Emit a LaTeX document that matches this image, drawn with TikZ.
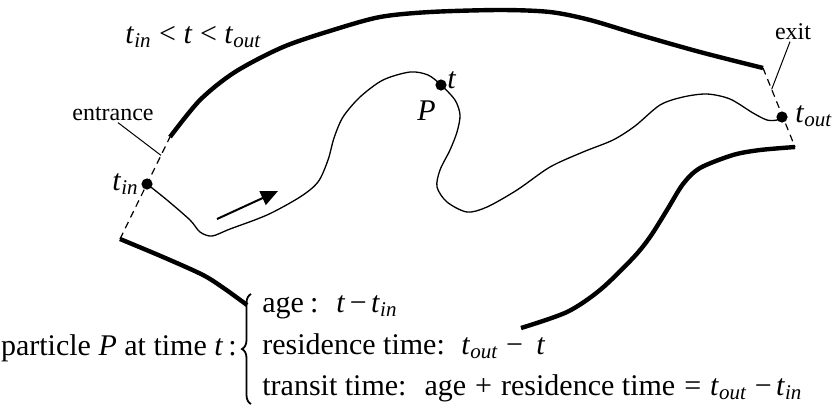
\documentclass[tikz,border=0pt]{standalone}
\usepackage{fontspec}
\setmainfont{Liberation Serif}
\usetikzlibrary{arrows.meta,calc,decorations.pathreplacing}

\newcommand{\tIn}{\textit{t}\textsubscript{\textit{in}}}
\newcommand{\tOut}{\textit{t}\textsubscript{\textit{out}}}

\begin{document}
\begin{tikzpicture}[x=0.5pt,y=-0.5pt,>=Stealth,
  wall/.style={line width=2.2pt},
  opening/.style={line width=0.6pt,dash pattern=on 3.5pt off 2.5pt},
  track/.style={line width=0.65pt},
  leader/.style={line width=0.5pt},
  pdot/.style={circle,fill,inner sep=0pt,minimum size=5.6pt},
  txt/.style={font=\fontsize{15}{18}\selectfont,inner sep=0pt},
  smalltxt/.style={font=\fontsize{12}{14}\selectfont,inner sep=1pt}]
\useasboundingbox (0,0) rectangle (833,404);

% entrance and exit
\coordinate (entA) at (120,239);
\coordinate (entB) at (170,137);
\coordinate (exA) at (763,68);
\coordinate (exB) at (795,147);
\draw[opening] (entA) -- (entB);
\draw[opening] (exA) -- (exB);

% walls of the domain
\draw[wall] plot[smooth] coordinates {(entB) (200,100) (235,72) (283,47) (333,30)
  (380,17) (430,12) (500,10) (550,12) (590,20) (640,35) (700,52) (exA)};
\draw[wall] plot[smooth] coordinates {(exB) (760,150) (733,155) (700,168) (683,184)
  (667,210) (650,237) (633,258) (600,290) (567,312) (521,328)};
\draw[wall] plot[smooth] coordinates {(entA) (163,257) (203,275) (225,289) (247,305)};

% particle path
\node[pdot] (tin) at (147,184) {};
\node[pdot] (tp) at (441,85) {};
\node[pdot] (tout) at (782,117) {};
\draw[track] plot[smooth] coordinates {(tin.center) (167,200) (190,220) (200,232) (212,236)
  (230,229) (267,215) (300,197) (318,182) (328,160) (334,138) (343,117) (360,97)
  (383,80) (410,72) (428,75) (tp.center) (455,100) (460,115) (457,132) (450,150)
  (440,170) (437,187) (447,202) (467,212) (487,207) (517,190) (550,167) (583,152)
  (613,140) (635,126) (660,105) (683,97) (707,94) (730,99) (753,113) (767,120)
  (777,120) (tout.center)};
\coordinate (arrS) at (217,219);
\coordinate (arrE) at (278,191);
\draw[-{Triangle[length=8.5pt,width=7.5pt]},line width=1pt] (arrS) -- (arrE);

% labels
\node[txt,anchor=base west] (range) at (125,43) {\tIn{} < \textit{t} < \tOut};
\node[smalltxt,anchor=base] (entlbl) at (113,120) {entrance};
\coordinate (entpt) at ($(entA)!0.82!(entB)$);
\draw[leader] ($(entlbl.south)+(5,0)$) -- (entpt);
\node[smalltxt,anchor=base] (exlbl) at (793,39) {exit};
\coordinate (expt) at ($(exA)!0.27!(exB)$);
\draw[leader] ($(exlbl.south)+(-3,0)$) -- (expt);
\node[txt,anchor=base east] (tinlbl) at (139,190) {\tIn};
\node[txt,anchor=base west] (tlbl) at (447,88) {\textit{t}};
\node[txt,anchor=base west] (plbl) at (417,120) {\textit{P}};
\node[txt,anchor=base west] (toutlbl) at (795,122) {\tOut};

% ages and times
\node[txt,anchor=base east] (part) at (237,355) {particle \textit{P} at time \textit{t}\,:};
\draw[line width=0.9pt,decorate,decoration={brace,amplitude=4.5pt}] (251,404) -- (251,294);
\node[txt,anchor=base west] (age) at (262,312)
  {age\hspace{0.2em}:\hspace{0.6em}\textit{t}\hspace{0.15em}−\hspace{0.15em}\tIn};
\node[txt,anchor=base west] (res) at (262,354)
  {residence time:\hspace{0.55em}\tOut\hspace{0.25em}−\hspace{0.45em}\textit{t}};
\node[txt,anchor=base west] (trans) at (262,395)
  {transit time:\hspace{0.6em}age\hspace{0.3em}+\hspace{0.3em}residence time\hspace{0.3em}=\hspace{0.3em}\tOut\hspace{0.25em}−\hspace{0.15em}\tIn};
\end{tikzpicture}
\end{document}
